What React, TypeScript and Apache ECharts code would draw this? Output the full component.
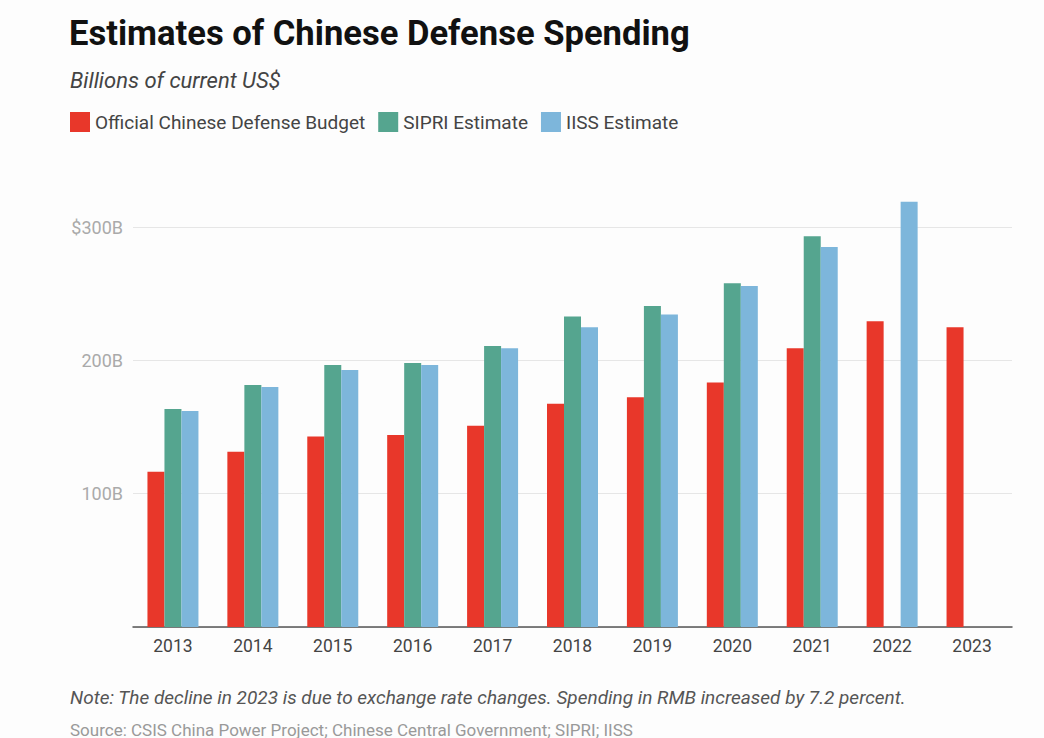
import React, { useEffect, useRef } from "react";
import * as echarts from "echarts";

const years = ["2013", "2014", "2015", "2016", "2017", "2018", "2019", "2020", "2021", "2022", "2023"];
const officialBudget = [116.5, 131.5, 142.8, 144, 151, 167.5, 172.3, 183.4, 209, 229.3, 224.8];
const sipriEstimate = [163.5, 181.5, 196.5, 198, 210.8, 232.8, 240.8, 257.8, 293, null, null];
const iissEstimate = [162, 180, 192.8, 196.5, 209, 224.8, 234.3, 255.7, 285, 319, null];
const yTicks = [0, 100, 200, 300];

const FONT = "Roboto, 'Noto Sans', sans-serif";

export default function App() {
  const ref = useRef<HTMLDivElement>(null);
  useEffect(() => {
    if (!ref.current) return;
    const chart = echarts.init(ref.current, null, { renderer: "svg" });
    chart.setOption({
      animation: false,
      backgroundColor: "#fdfdfd",
      textStyle: { fontFamily: FONT },
      title: [
        {
          text: "Estimates of Chinese Defense Spending",
          left: 64,
          top: 10,
          textStyle: { fontSize: 34.6, fontWeight: "bold", color: "#111", fontFamily: FONT },
        },
        {
          text: "Billions of current US$",
          left: 65,
          top: 64,
          textStyle: { fontSize: 22, fontWeight: "normal", fontStyle: "italic", color: "#444", fontFamily: FONT },
        },
      ],
      legend: {
        left: 65,
        top: 107,
        itemWidth: 20,
        itemHeight: 20,
        itemGap: 13,
        icon: "rect",
        textStyle: { fontSize: 19, color: "#444", fontFamily: FONT },
        data: ["Official Chinese Defense Budget", "SIPRI Estimate", "IISS Estimate"],
      },
      grid: { left: 133, right: 32, top: 227, bottom: 111, containLabel: false },
      xAxis: {
        type: "category",
        data: years,
        axisLine: { show: true, lineStyle: { color: "#555", width: 1.5 } },
        axisTick: { show: false },
        axisLabel: { color: "#444", fontSize: 17.5, margin: 10, fontFamily: FONT },
      },
      yAxis: {
        type: "value",
        min: yTicks[0],
        max: yTicks[yTicks.length - 1],
        interval: 100,
        axisLine: { show: false },
        axisTick: { show: false },
        splitLine: { lineStyle: { color: "#e6e6e6", width: 1 } },
        axisLabel: {
          color: "#aaa",
          fontSize: 18,
          margin: 10,
          fontFamily: FONT,
          formatter: (v: number) => (v === 0 ? "" : v === 300 ? "$" + v + "B" : v + "B"),
        },
      },
      series: [
        {
          name: "Official Chinese Defense Budget",
          type: "bar",
          data: officialBudget,
          barWidth: 17,
          barGap: "0%",
          clip: false,
          itemStyle: { color: "#e8372a" },
        },
        {
          name: "SIPRI Estimate",
          type: "bar",
          data: sipriEstimate,
          barWidth: 17,
          barGap: "0%",
          clip: false,
          itemStyle: { color: "#55a58f" },
        },
        {
          name: "IISS Estimate",
          type: "bar",
          data: iissEstimate,
          barWidth: 17,
          barGap: "0%",
          clip: false,
          itemStyle: { color: "#7db6db" },
        },
      ],
      graphic: [
        {
          type: "text",
          left: 70,
          top: 688,
          style: {
            text: "Note: The decline in 2023 is due to exchange rate changes. Spending in RMB increased by 7.2 percent.",
            fontSize: 19,
            fontStyle: "italic",
            fill: "#555",
            fontFamily: FONT,
          },
        },
        {
          type: "text",
          left: 70,
          top: 721,
          style: {
            text: "Source: CSIS China Power Project; Chinese Central Government; SIPRI; IISS",
            fontSize: 17,
            fill: "#999",
            fontFamily: FONT,
          },
        },
      ],
    });
    return () => chart.dispose();
  }, []);
  return <div ref={ref} style={{ position: "fixed", left: 0, top: 0, width: 1044, height: 738 }} />;
}
